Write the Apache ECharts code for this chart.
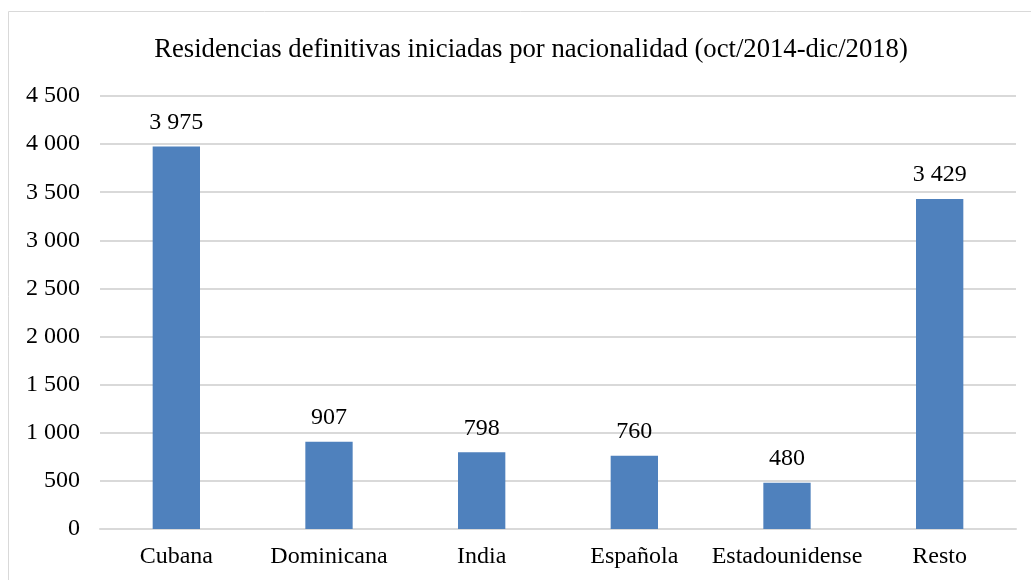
<!DOCTYPE html>
<html>
<head>
<meta charset="utf-8">
<script src="https://cdn.jsdelivr.net/npm/echarts@6/dist/echarts.min.js"></script>
<style>
  html, body { margin: 0; padding: 0; background: #fff; }
  #chart { width: 1031px; height: 580px; }
</style>
</head>
<body>
<div id="chart"></div>
<script>
// datos
var categorias = ['Cubana', 'Dominicana', 'India', 'Española', 'Estadounidense', 'Resto'];
var residencias = [3975, 907, 798, 760, 480, 3429];

function fmt(v) {
  return String(v).replace(/\B(?=(\d{3})+(?!\d))/g, ' ');
}

var myChart = echarts.init(document.getElementById('chart'));
var fuente = '"Liberation Serif", "Times New Roman", serif';

myChart.setOption({
  animation: false,
  textStyle: { fontFamily: fuente },
  title: {
    text: 'Residencias definitivas iniciadas por nacionalidad (oct/2014-dic/2018)',
    left: 526,
    textAlign: 'center',
    top: 31,
    textStyle: { fontFamily: fuente, fontSize: 26.7, fontWeight: 'normal', color: '#000' }
  },
  graphic: [{
    type: 'rect',
    shape: { x: 8.5, y: 11.5, width: 1040, height: 600 },
    style: { fill: 'none', stroke: '#d9d9d9', lineWidth: 1 },
    silent: true
  }],
  grid: { left: 100, right: 15, top: 96, bottom: 51, containLabel: false },
  xAxis: {
    type: 'category',
    data: categorias,
    axisLine: { show: true, lineStyle: { color: '#d9d9d9', width: 2 } },
    axisTick: { show: false },
    axisLabel: { interval: 0, fontFamily: fuente, fontSize: 24, color: '#000', margin: 16 }
  },
  yAxis: {
    type: 'value',
    min: 0,
    max: 4500,
    interval: 500,
    axisLine: { show: false },
    axisTick: { show: false },
    splitLine: { lineStyle: { color: '#d9d9d9', width: 2 } },
    axisLabel: { fontFamily: fuente, fontSize: 24, color: '#000', margin: 20, formatter: fmt }
  },
  series: [{
    type: 'bar',
    data: residencias,
    barWidth: '31%',
    itemStyle: { color: '#4f81bd' },
    label: {
      show: true,
      position: 'top',
      distance: 12,
      fontFamily: fuente,
      fontSize: 24,
      color: '#000',
      formatter: function (p) { return fmt(p.value); }
    }
  }]
});
</script>
</body>
</html>
